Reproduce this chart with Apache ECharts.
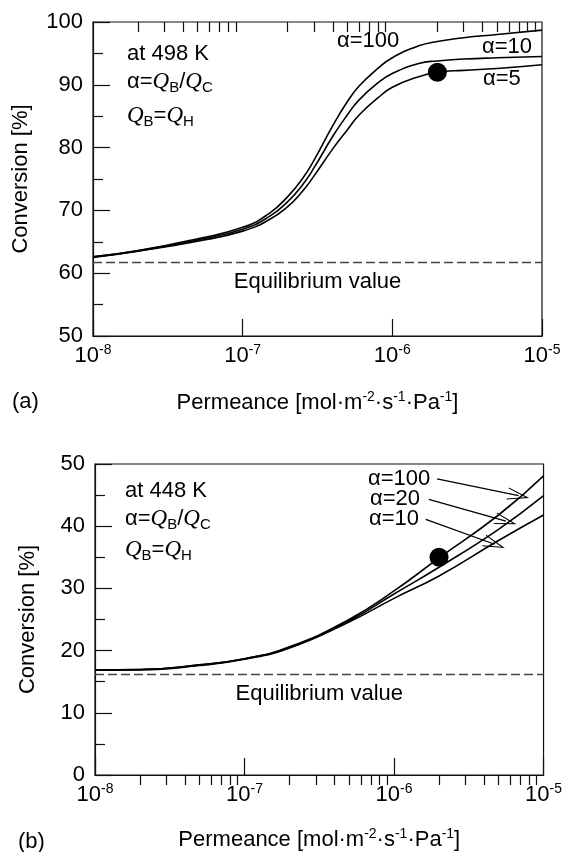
<!DOCTYPE html>
<html>
<head>
<meta charset="utf-8">
<script src="https://cdn.jsdelivr.net/npm/echarts@6/dist/echarts.min.js"></script>
<style>
  html, body { margin: 0; padding: 0; background: #fff; }
  #main { width: 565px; height: 852px; }
</style>
</head>
<body>
<div id="main"></div>
<script>
// panel (a) at 498 K
const permA = [1e-8, 2e-8, 5e-8, 1e-7, 1.5e-7, 2e-7, 2.5e-7, 3e-7, 4e-7, 5e-7, 6e-7, 8e-7, 1e-6, 1.5e-6, 2e-6, 3e-6, 5e-6, 1e-5]
const convA100 = [62.6, 63.6, 65.5, 67.3, 69.5, 72.2, 75.0, 78.0, 83.5, 87.3, 89.8, 92.6, 94.3, 96.2, 96.9, 97.5, 98.0, 98.7]
const convA10 = [62.6, 63.55, 65.3, 67.0, 69.0, 71.4, 74.0, 76.8, 81.8, 85.2, 87.6, 90.3, 91.8, 93.4, 93.8, 94.1, 94.3, 94.5]
const convA5 = [62.5, 63.5, 65.1, 66.7, 68.5, 70.6, 73.0, 75.5, 79.8, 82.8, 85.2, 87.9, 89.6, 91.3, 92.0, 92.3, 92.6, 93.2]
const dotA = [2e-6, 92.0]
const equilA = 61.8

// panel (b) at 448 K
const permB = [1e-8, 2e-8, 5e-8, 1e-7, 2e-7, 5e-7, 1e-6, 2e-6, 5e-6, 1e-5]
const convB100 = [16.9, 16.95, 17.7, 18.7, 20.6, 25.0, 29.6, 34.9, 41.8, 48.1]
const convB20 = [16.9, 16.95, 17.7, 18.7, 20.5, 24.8, 29.1, 33.4, 39.5, 44.9]
const convB10 = [16.85, 16.9, 17.6, 18.6, 20.4, 24.6, 28.4, 32.0, 37.7, 41.8]
const dotB = [2e-6, 35.0]
const equilB = 16.2
// arrows: [start, end] in data coords
const arrowsB = [
  [[1.94e-6, 47.6], [6.8e-6, 44.9]],
  [[1.71e-6, 44.3], [5.6e-6, 40.8]],
  [[1.63e-6, 41.1], [4.7e-6, 37.1]]
]

const minorX = []
for (let e = -8; e < -5; e++) {
  for (let m = 2; m <= 9; m++) minorX.push(m * Math.pow(10, e))
}

const FONT = 'Liberation Sans'
const FS = 22
const ink = '#111'

const chart = echarts.init(document.getElementById('main'))

function zip(xs, ys) {
  return xs.map((x, i) => [x, ys[i]])
}

function xAxes(grid, gap) {
  return [
    {
      type: 'log',
      gridIndex: grid,
      min: 1e-8,
      max: 1e-5,
      axisLine: { onZero: false, lineStyle: { color: ink, width: 1.2 } },
      axisTick: { inside: true, length: 17, lineStyle: { color: ink, width: 1.2 } },
      splitLine: { show: false },
      axisLabel: {
        margin: 7,
        color: '#000',
        formatter: v => '{b|10}{sup|' + Math.round(Math.log10(v)) + '}',
        rich: {
          b: { fontSize: FS, fontFamily: FONT, lineHeight: 25, verticalAlign: 'middle' },
          sup: { fontSize: 14, fontFamily: FONT, verticalAlign: 'top' }
        }
      },
      name: '{b|Permeance [mol·m}{sup|-2}{b|·s}{sup|-1}{b|·Pa}{sup|-1}{b|]}',
      nameLocation: 'middle',
      nameGap: gap,
      nameTextStyle: {
        color: '#000',
        rich: {
          b: { fontSize: FS, fontFamily: FONT, lineHeight: 26, verticalAlign: 'middle', color: '#000' },
          sup: { fontSize: 14, fontFamily: FONT, verticalAlign: 'top', color: '#000' }
        }
      }
    },
    {
      type: 'log',
      gridIndex: grid,
      min: 1e-8,
      max: 1e-5,
      axisLine: { show: false },
      axisLabel: { show: false },
      splitLine: { show: false },
      axisTick: { inside: true, length: 10, customValues: minorX, lineStyle: { color: ink, width: 1.2 } }
    }
  ]
}

function yAxis(grid, min, max, gap) {
  return {
    type: 'value',
    gridIndex: grid,
    min: min,
    max: max,
    interval: 10,
    axisLine: { show: true, lineStyle: { color: ink, width: 1.2 } },
    axisTick: { inside: true, length: 17, lineStyle: { color: ink, width: 1.2 } },
    minorTick: { show: true, splitNumber: 2, length: 10, lineStyle: { color: ink, width: 1.2 } },
    splitLine: { show: false },
    axisLabel: { fontSize: FS, fontFamily: FONT, color: '#000', margin: 10 },
    name: 'Conversion [%]',
    nameLocation: 'middle',
    nameGap: gap,
    nameTextStyle: { fontSize: FS, fontFamily: FONT, color: '#000' }
  }
}

function curve(name, xs, ys, xi, yi, extra) {
  return Object.assign({
    name: name,
    type: 'line',
    xAxisIndex: xi,
    yAxisIndex: yi,
    data: zip(xs, ys),
    smooth: 0.5,
    showSymbol: false,
    lineStyle: { color: '#000', width: 1.6 }
  }, extra || {})
}

function equil(value) {
  return {
    silent: true,
    symbol: 'none',
    lineStyle: { color: '#444', type: [9, 4], width: 1.3 },
    label: {
      show: true,
      position: 'insideMiddleBottom',
      formatter: 'Equilibrium value',
      fontSize: FS,
      fontFamily: FONT,
      color: '#000',
      distance: 9
    },
    data: [{ yAxis: value }]
  }
}

const qRich = {
  t: { fontSize: FS, fontFamily: FONT, lineHeight: 28, verticalAlign: 'middle', fill: '#000' },
  q: { fontSize: 23, fontFamily: 'Liberation Serif', fontStyle: 'italic', lineHeight: 28, verticalAlign: 'middle', fill: '#000' },
  sub: { fontSize: 15, fontFamily: FONT, verticalAlign: 'bottom', fill: '#000' }
}

function note(left, top, text, rich) {
  return {
    type: 'text',
    left: left,
    top: top,
    style: { text: text, rich: rich, fontSize: FS, fontFamily: FONT, fill: '#000' }
  }
}

const arrowHead = 'path://M0,10 L5,0 L10,10 L9.2,10 L5,1.8 L0.8,10 Z'

chart.setOption({
  animation: false,
  grid: [
    { left: 93, top: 22, width: 449, height: 314, show: true, borderColor: ink, borderWidth: 1.2 },
    { left: 95, top: 464, width: 450, height: 314, show: true, borderColor: ink, borderWidth: 1.2 }
  ],
  xAxis: [].concat(xAxes(0, 54), xAxes(1, 52)),
  yAxis: [yAxis(0, 50, 100, 61), yAxis(1, 0, 50, 56)],
  series: [
    curve('α=100', permA, convA100, 0, 0, { markLine: equil(equilA) }),
    curve('α=10', permA, convA10, 0, 0),
    curve('α=5', permA, convA5, 0, 0),
    {
      type: 'scatter', xAxisIndex: 0, yAxisIndex: 0,
      data: [dotA], symbolSize: 19, itemStyle: { color: '#000', opacity: 1 }
    },
    curve('α=100', permB, convB100, 2, 1, {
      markLine: equil(equilB)
    }),
    curve('α=20', permB, convB20, 2, 1, {
      markLine: {
        silent: true,
        symbol: ['none', arrowHead],
        symbolSize: [12, 22],
        lineStyle: { color: '#000', type: 'solid', width: 1.3 },
        label: { show: false },
        data: arrowsB.map(a => [{ coord: a[0] }, { coord: a[1] }])
      }
    }),
    curve('α=10', permB, convB10, 2, 1),
    {
      type: 'scatter', xAxisIndex: 2, yAxisIndex: 1,
      data: [dotB], symbolSize: 19, itemStyle: { color: '#000', opacity: 1 }
    }
  ],
  graphic: [
    note(127, 43, 'at 498 K'),
    note(127, 70, '{t|α=}{q|Q}{sub|B}{t|/}{q|Q}{sub|C}', qRich),
    note(127, 104, '{q|Q}{sub|B}{t|=}{q|Q}{sub|H}', qRich),
    note(337, 30, 'α=100'),
    note(482, 36, 'α=10'),
    note(483, 68, 'α=5'),
    note(12, 391, '(a)'),
    note(125, 480, 'at 448 K'),
    note(125, 507, '{t|α=}{q|Q}{sub|B}{t|/}{q|Q}{sub|C}', qRich),
    note(125, 538, '{q|Q}{sub|B}{t|=}{q|Q}{sub|H}', qRich),
    note(368, 468, 'α=100'),
    note(370, 488, 'α=20'),
    note(369, 508, 'α=10'),
    note(18, 831, '(b)')
  ]
})
</script>
</body>
</html>
